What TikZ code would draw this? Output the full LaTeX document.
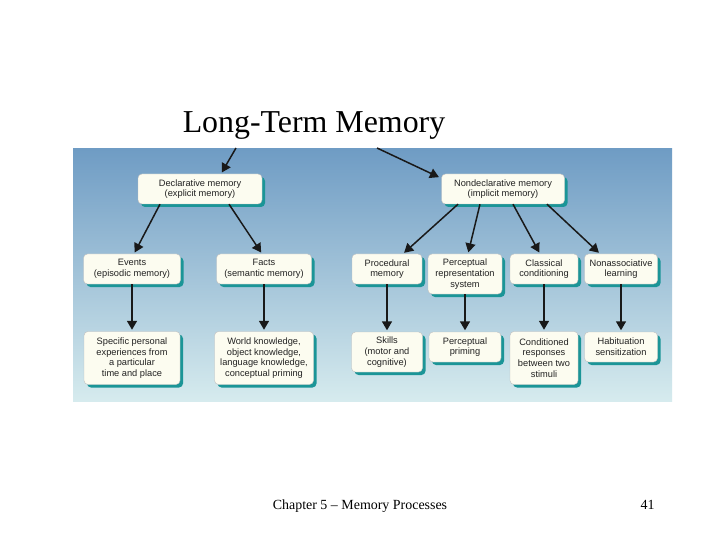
\documentclass[tikz,border=0pt]{standalone}
\usepackage{fontspec}
\setmainfont{Liberation Serif}
\newfontfamily\boxfont{Liberation Sans}
\usetikzlibrary{calc, shapes, arrows.meta, shadows}

\definecolor{paneltop}{HTML}{6F9CC4}
\definecolor{panelbottom}{HTML}{D6EBEE}
\definecolor{boxfill}{HTML}{FCFCF0}
\definecolor{boxshade}{HTML}{1B9597}
\definecolor{boxtext}{HTML}{222222}

\tikzset{
	membox/.style={rectangle, rounded corners=4bp, draw=gray!50, line width=0.4bp, fill=boxfill, align=center, inner sep=1bp, text=boxtext, font=\boxfont\fontsize{9.3}{10.7}\selectfont, drop shadow={shadow xshift=3bp, shadow yshift=-3bp, fill=boxshade, opacity=1}},
	memarrow/.style={-{Triangle[length=9bp,width=10bp]}, line width=1.5bp, color=black!90, shorten >=1.5bp},
}

\begin{document}
\begin{tikzpicture}[x=1bp, y=-1bp]
	
	\useasboundingbox (0,0) rectangle (720,540);
	\fill[white] (0,0) rectangle (720,540);
	\shade[top color=paneltop, bottom color=panelbottom] (73,149) rectangle (672,401);
	
	\node[anchor=base, font=\fontsize{32}{36}\selectfont] (title) at (314,133) {Long-Term Memory};
	
	\coordinate (ltmL) at (236,148);
	\coordinate (ltmR) at (377,148);
	
	% first level
	\node[membox, minimum width=124bp, minimum height=30bp] (decl) at (200,189) {Declarative memory\\(explicit memory)};
	\node[membox, minimum width=123bp, minimum height=30bp] (nondecl) at (503,189) {Nondeclarative memory\\(implicit memory)};
	
	% second level
	\node[membox, minimum width=97bp, minimum height=30bp] (events) at (132,269) {Events\\(episodic memory)};
	\node[membox, minimum width=95bp, minimum height=30bp] (facts) at (264,269) {Facts\\(semantic memory)};
	\node[membox, minimum width=70bp, minimum height=30bp] (proc) at (387,269) {Procedural\\memory};
	\node[membox, minimum width=74bp, minimum height=40bp] (prs) at (465,274) {Perceptual\\representation\\system};
	\node[membox, minimum width=68bp, minimum height=30bp] (classic) at (544,269) {Classical\\conditioning};
	\node[membox, minimum width=73bp, minimum height=30bp] (nonassoc) at (621,269) {Nonassociative\\learning};
	
	% third level
	\node[membox, minimum width=96bp, minimum height=53bp] (specific) at (132,358) {Specific personal\\experiences from\\a particular\\time and place};
	\node[membox, minimum width=99bp, minimum height=53bp] (world) at (264,358) {World knowledge,\\object knowledge,\\language knowledge,\\conceptual priming};
	\node[membox, minimum width=71bp, minimum height=40bp] (skills) at (387,352) {Skills\\(motor and\\cognitive)};
	\node[membox, minimum width=72bp, minimum height=30bp] (priming) at (465,347) {Perceptual\\priming};
	\node[membox, minimum width=68bp, minimum height=53bp] (cond) at (544,358) {Conditioned\\responses\\between two\\stimuli};
	\node[membox, minimum width=73bp, minimum height=30bp] (habit) at (621,347) {Habituation\\sensitization};
	
	\draw[memarrow] (ltmL) -- ($(decl.north)+(21,0)$);
	\draw[memarrow] (ltmR) -- ($(nondecl.north west)+(-1,4)$);
	
	\draw[memarrow] ($(decl.south)+(-40,0)$) -- ($(events.north)+(2,0)$);
	\draw[memarrow] ($(decl.south)+(29,0)$) -- ($(facts.north)+(-2,0)$);
	
	\draw[memarrow] ($(nondecl.south)+(-45,0)$) -- ($(proc.north)+(16,0)$);
	\draw[memarrow] ($(nondecl.south)+(-23,0)$) -- ($(prs.north)+(3,0)$);
	\draw[memarrow] ($(nondecl.south)+(10,0)$) -- ($(classic.north)+(-4,0)$);
	\draw[memarrow] ($(nondecl.south)+(44,0)$) -- ($(nonassoc.north)+(-21,0)$);
	
	\foreach \upper/\lower in {events/specific, facts/world, proc/skills, prs/priming, classic/cond, nonassoc/habit}
		\draw[memarrow] (\upper.south) -- (\lower.north);
	
	\node[anchor=base, font=\fontsize{14}{16}\selectfont] (footer) at (360,509) {Chapter 5 -- Memory Processes};
	\node[anchor=base east, font=\fontsize{14}{16}\selectfont] (slideno) at (658,509) {41};
	
\end{tikzpicture}
\end{document}
